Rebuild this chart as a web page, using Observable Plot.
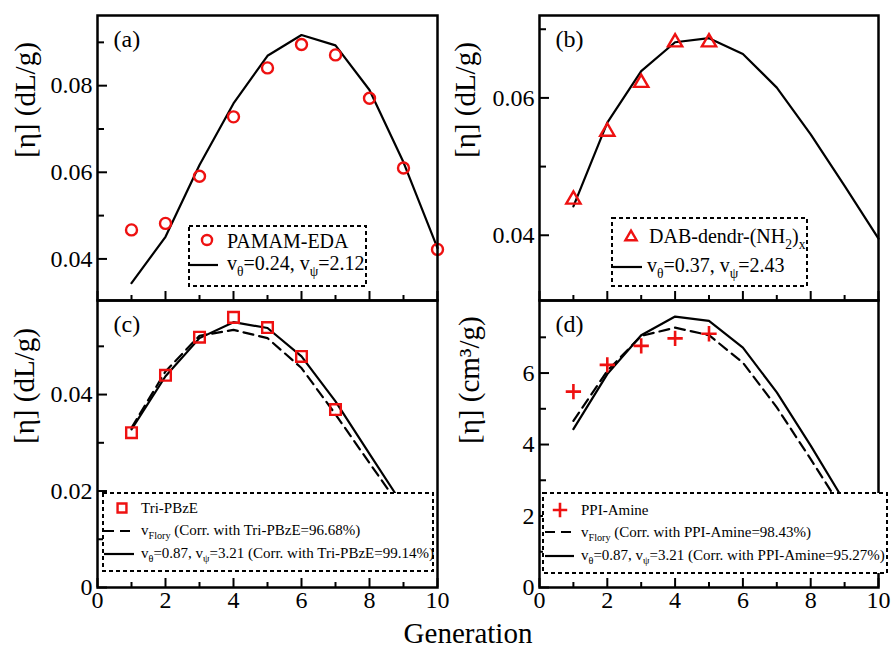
<!DOCTYPE html>
<html><head><meta charset="utf-8">
<script src="https://cdn.jsdelivr.net/npm/d3@7"></script>
<script src="https://cdn.jsdelivr.net/npm/@observablehq/plot@0.6"></script>
<style>
body{margin:0;background:#fff;}
#fig{position:relative;width:893px;height:649px;overflow:hidden;font-family:"Liberation Serif",serif;background:#fff;}
#fig > svg{position:absolute;}
</style></head><body><div id="fig"></div>
<script>
// ---- data ----
const generations = [1,2,3,4,5,6,7,8,9,10];
// (a) PAMAM-EDA
const pamamGen = [1,2,3,4,5,6,7,8,9,10];
const pamamExp = [0.0467,0.0482,0.0591,0.0728,0.0841,0.0895,0.0871,0.0771,0.0610,0.0422];
const pamamFit = [0.0344,0.0451,0.0617,0.0759,0.0869,0.0917,0.0893,0.0790,0.0623,0.0425];
// (b) DAB-dendr-(NH2)x
const dabGen = [1,2,3,4,5];
const dabExp = [0.0452,0.0551,0.0622,0.0681,0.0681];
const dabFit = [0.0442,0.0564,0.0639,0.0681,0.0687,0.0664,0.0615,0.0547,0.0472,0.0395];
// (c) Tri-PBzE
const triGen = [1,2,3,4,5,6,7];
const triExp = [0.0321,0.0440,0.0519,0.0560,0.0539,0.0479,0.0369];
const lineGen9 = [1,2,3,4,5,6,7,8,9];
const triFlory = [0.0331,0.0448,0.0522,0.0534,0.0517,0.0455,0.0359,0.0258,0.0158];
const triFit = [0.0328,0.0438,0.0517,0.0550,0.0538,0.0479,0.0386,0.0277,0.0169];
// (d) PPI-Amine
const ppiGen = [1,2,3,4,5];
const ppiExp = [5.48,6.23,6.76,6.97,7.10];
const ppiFlory = [4.66,6.06,7.04,7.27,7.06,6.29,5.04,3.59,2.10];
const ppiFit = [4.43,5.97,7.06,7.58,7.46,6.71,5.46,3.97,2.40];
// ticks
const xMajor = [0,2,4,6,8,10];
const xMinor = [1,3,5,7,9];

const RED = "#ee1111";
const zip = (xs, ys) => xs.map((x, i) => ({x, y: ys[i]}));
const fig = document.getElementById("fig");

function panel(o) {
  const fh = o.height - o.mT - o.mB;   // frame height
  const fw = o.width - o.mL - o.mR;    // frame width
  const p = Plot.plot({
    width: o.width, height: o.height,
    marginLeft: o.mL, marginRight: o.mR, marginTop: o.mT, marginBottom: o.mB,
    x: {domain: [0, 10], label: null, axis: null},
    y: {domain: o.yDomain, label: null, axis: null},
    style: {fontFamily: "Liberation Serif", fontSize: "24px", color: "black", background: "transparent", overflow: "visible"},
    marks: [
      ...o.marks,
      // inward ticks
      Plot.tickX(xMajor, {x: d => d, insetTop: fh - 9, stroke: "black", strokeWidth: 2}),
      Plot.tickX(xMinor, {x: d => d, insetTop: fh - 5, stroke: "black", strokeWidth: 2}),
      Plot.tickY(o.yMajor, {y: d => d, insetRight: fw - 10, stroke: "black", strokeWidth: 2}),
      Plot.tickY(o.yMinor, {y: d => d, insetRight: fw - 7, stroke: "black", strokeWidth: 2}),
      // tick labels
      o.xLabels ? Plot.axisX({ticks: xMajor, tickSize: 0, tickPadding: 3, tickFormat: d => String(d), label: null}) : null,
      Plot.axisY({ticks: o.yMajor, tickSize: 0, tickPadding: 5, tickFormat: o.yFmt, label: null}),
      Plot.text([o.title], {text: d => d, frameAnchor: "left", dx: o.titleDx, rotate: -90, fontSize: 29}),
      Plot.text([o.tag], {text: d => d, frameAnchor: "top-left", dx: 16, dy: 14, lineAnchor: "top", textAnchor: "start", fontSize: 24}),
      Plot.frame({stroke: "black", strokeWidth: 2.5})
    ]
  });
  p.style.left = o.left + "px";
  p.style.top = o.top + "px";
  fig.append(p);
}

const f2 = d => d === 0 ? "0" : d.toFixed(2);

panel({left: 0, top: 0, width: 440, height: 302, mL: 97, mR: 3, mT: 15, mB: 2,
  yDomain: [0.0304, 0.0962], yMajor: [0.04, 0.06, 0.08], yMinor: [0.05, 0.07, 0.09], yFmt: f2,
  title: "[η] (dL/g)", titleDx: -72, tag: "(a)", xLabels: false,
  marks: [
    Plot.line(zip(pamamGen, pamamFit), {x: "x", y: "y", stroke: "black", strokeWidth: 2.2}),
    Plot.dot(zip(pamamGen, pamamExp), {x: "x", y: "y", symbol: "circle", r: 5.5, stroke: RED, strokeWidth: 2.4, fill: "none"})
  ]});

panel({left: 440, top: 0, width: 444, height: 302, mL: 99, mR: 6, mT: 15, mB: 2,
  yDomain: [0.0305, 0.0720], yMajor: [0.04, 0.06], yMinor: [0.05, 0.07], yFmt: f2,
  title: "[η] (dL/g)", titleDx: -74, tag: "(b)", xLabels: false,
  marks: [
    Plot.line(zip(generations, dabFit), {x: "x", y: "y", stroke: "black", strokeWidth: 2.2}),
    Plot.dot(zip(dabGen, dabExp), {x: "x", y: "y", symbol: "triangle", r: 5.3, stroke: RED, strokeWidth: 2.4, fill: "none"})
  ]});

panel({left: 0, top: 298, width: 440, height: 325, mL: 97, mR: 3, mT: 2, mB: 36,
  yDomain: [0, 0.0595], yMajor: [0, 0.02, 0.04], yMinor: [0.01, 0.03, 0.05], yFmt: f2,
  title: "[η] (dL/g)", titleDx: -73, tag: "(c)", xLabels: true,
  marks: [
    Plot.line(zip(lineGen9, triFlory), {x: "x", y: "y", stroke: "black", strokeWidth: 2.2, strokeDasharray: "10,6"}),
    Plot.line(zip(lineGen9, triFit), {x: "x", y: "y", stroke: "black", strokeWidth: 2.2}),
    Plot.dot(zip(triGen, triExp), {x: "x", y: "y", symbol: "square", r: 6, stroke: RED, strokeWidth: 2.4, fill: "none"})
  ]});

panel({left: 440, top: 298, width: 444, height: 325, mL: 99, mR: 6, mT: 2, mB: 36,
  yDomain: [0, 8.03], yMajor: [0, 2, 4, 6], yMinor: [1, 3, 5, 7], yFmt: d => String(d),
  title: "[η] (cm³/g)", titleDx: -70, tag: "(d)", xLabels: true,
  marks: [
    Plot.line(zip(lineGen9, ppiFlory), {x: "x", y: "y", stroke: "black", strokeWidth: 2.2, strokeDasharray: "10,6"}),
    Plot.line(zip(lineGen9, ppiFit), {x: "x", y: "y", stroke: "black", strokeWidth: 2.2}),
    Plot.dot(zip(ppiGen, ppiExp), {x: "x", y: "y", symbol: "plus", r: 5, stroke: RED, strokeWidth: 2.6, fill: "none"})
  ]});

// ---- overlay: legends and shared x title ----
const ov = d3.select(fig).append("svg")
  .attr("width", 893).attr("height", 649)
  .style("left", "0px").style("top", "0px")
  .attr("font-family", "Liberation Serif").attr("fill", "black");

function box(x, y, w, h) {
  ov.append("rect").attr("x", x).attr("y", y).attr("width", w).attr("height", h)
    .attr("fill", "white").attr("stroke", "black").attr("stroke-width", 2).attr("stroke-dasharray", "4,3");
}
function sample(x1, x2, y, dash) {
  const l = ov.append("line").attr("x1", x1).attr("x2", x2).attr("y1", y).attr("y2", y)
    .attr("stroke", "black").attr("stroke-width", 2.2);
  if (dash) l.attr("stroke-dasharray", dash);
}
function rich(x, y, size, segs) {
  const t = ov.append("text").attr("x", x).attr("y", y).attr("font-size", size).attr("fill", "black");
  const shift = Math.round(size * 0.28);
  let low = false;
  segs.forEach(s => {
    const sub = typeof s !== "string";
    const sp = t.append("tspan").text(sub ? s.sub : s);
    if (sub && !low) { sp.attr("dy", shift); low = true; }
    else if (!sub && low) { sp.attr("dy", -shift); low = false; }
    if (sub) sp.attr("font-size", size * 0.68);
  });
}
function symbol(type, x, y, size, sw) {
  ov.append("path").attr("d", d3.symbol(type, size)()).attr("transform", `translate(${x},${y})`)
    .attr("fill", "none").attr("stroke", RED).attr("stroke-width", sw);
}

// (a)
box(189, 226, 177, 60);
symbol(d3.symbolCircle, 207, 240, 80, 2.4);
rich(227, 248, 20, ["PAMAM-EDA"]);
sample(190, 218, 265);
rich(227, 270, 20, ["v", {sub: "θ"}, "=0.24, v", {sub: "ψ"}, "=2.12"]);

// (b)
box(612, 218, 195, 68);
symbol(d3.symbolTriangle2, 631, 237, 90, 2.4);
rich(649, 243, 20, ["DAB-dendr-(NH", {sub: "2"}, ")", {sub: "x"}]);
sample(613, 642, 267);
rich(647, 272, 20, ["v", {sub: "θ"}, "=0.37, v", {sub: "ψ"}, "=2.43"]);

// (c)
box(103, 493, 330, 78);
symbol(d3.symbolSquare2, 122, 508, 100, 2.4);
rich(141, 513, 15, ["Tri-PBzE"]);
sample(104, 134, 531, "10,6");
rich(141, 535, 15, ["v", {sub: "Flory"}, " (Corr. with Tri-PBzE=96.68%)"]);
sample(104, 134, 554);
rich(141, 558, 15, ["v", {sub: "θ"}, "=0.87, v", {sub: "ψ"}, "=3.21 (Corr. with Tri-PBzE=99.14%)"]);

// (d)
box(543, 493, 344, 80);
symbol(d3.symbolPlus, 560, 510, 70, 2.6);
rich(581, 515, 15, ["PPI-Amine"]);
sample(545, 574, 532, "10,6");
rich(581, 537, 15, ["v", {sub: "Flory"}, " (Corr. with PPI-Amine=98.43%)"]);
sample(545, 574, 556);
rich(581, 560, 15, ["v", {sub: "θ"}, "=0.87, v", {sub: "ψ"}, "=3.21 (Corr. with PPI-Amine=95.27%)"]);

ov.append("text").attr("x", 468).attr("y", 643).attr("text-anchor", "middle")
  .attr("font-size", 29).text("Generation");
</script></body></html>
